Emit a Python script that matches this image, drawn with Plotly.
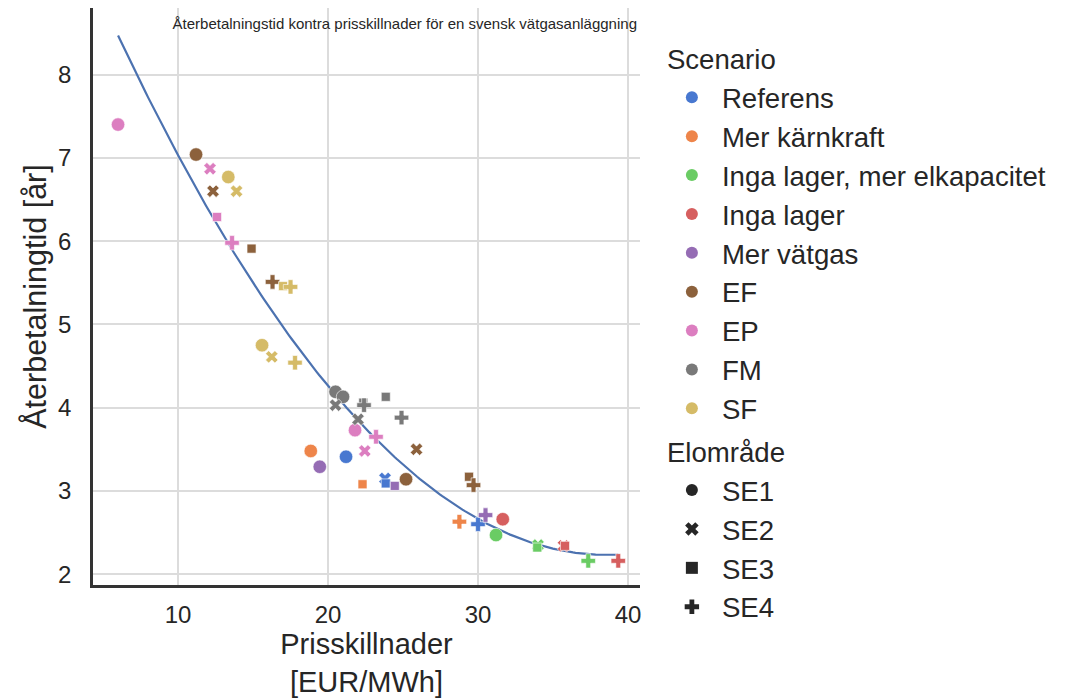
import numpy as np
import plotly.graph_objects as go

# ---- data ----
scenarios = ["Referens", "Mer kärnkraft", "Inga lager, mer elkapacitet", "Inga lager",
             "Mer vätgas", "EF", "EP", "FM", "SF"]
colors = ["#4878d0", "#ee854a", "#6acc64", "#d65f5f", "#956cb4",
          "#8c613c", "#dc7ec0", "#797979", "#d5bb67"]
regions = ["SE1", "SE2", "SE3", "SE4"]
symbols = ["circle", "x", "square", "cross"]
symbol_sizes = [13.5, 11, 9, 12]

pt_scenario = ["Referens", "Referens", "Referens", "Referens",
               "Mer kärnkraft", "Mer kärnkraft", "Mer kärnkraft",
               "Inga lager, mer elkapacitet", "Inga lager, mer elkapacitet",
               "Inga lager, mer elkapacitet", "Inga lager, mer elkapacitet",
               "Inga lager", "Inga lager", "Inga lager", "Inga lager",
               "Mer vätgas", "Mer vätgas", "Mer vätgas",
               "EF", "EF", "EF", "EF", "EF", "EF", "EF", "EF",
               "EP", "EP", "EP", "EP", "EP", "EP", "EP",
               "FM", "FM", "FM", "FM", "FM", "FM", "FM", "FM",
               "SF", "SF", "SF", "SF", "SF", "SF", "SF"]
pt_region = ["SE1", "SE2", "SE3", "SE4",
             "SE1", "SE3", "SE4",
             "SE1", "SE2", "SE3", "SE4",
             "SE1", "SE2", "SE3", "SE4",
             "SE1", "SE3", "SE4",
             "SE1", "SE2", "SE3", "SE4", "SE1", "SE2", "SE3", "SE4",
             "SE1", "SE2", "SE3", "SE4", "SE1", "SE2", "SE4",
             "SE1", "SE1", "SE2", "SE2", "SE3", "SE4", "SE4", "SE3",
             "SE1", "SE2", "SE3", "SE4", "SE1", "SE2", "SE4"]
pt_x = [21.2, 23.8, 23.85, 30.0,
        18.85, 22.3, 28.76,
        31.2, 34.0, 33.95, 37.35,
        31.65, 35.7, 35.8, 39.35,
        19.45, 24.45, 30.5,
        11.2, 12.33, 14.9, 16.3, 25.2, 25.9, 29.4, 29.7,
        6.0, 12.13, 12.6, 13.6, 21.8, 22.45, 23.2,
        20.5, 21.0, 20.5, 22.0, 23.85, 22.4, 24.9, 22.35,
        13.35, 13.9, 17.0, 17.5, 15.6, 16.25, 17.8]
pt_y = [3.41, 3.15, 3.09, 2.60,
        3.48, 3.08, 2.63,
        2.47, 2.35, 2.32, 2.16,
        2.66, 2.34, 2.34, 2.16,
        3.29, 3.06, 2.71,
        7.04, 6.60, 5.91, 5.51, 3.14, 3.50, 3.17, 3.07,
        7.40, 6.87, 6.29, 5.98, 3.73, 3.48, 3.65,
        4.19, 4.13, 4.03, 3.86, 4.13, 4.03, 3.88, 4.06,
        6.77, 6.60, 5.46, 5.45, 4.75, 4.61, 4.54]

title_text = "Återbetalningstid kontra prisskillnader för en svensk vätgasanläggning"
x_title = "Prisskillnader<br>[EUR/MWh]"
y_title = "Återbetalningtid [år]"
x_ticks = [10, 20, 30, 40]
y_ticks = [2, 3, 4, 5, 6, 7, 8]

FONT = "Liberation Sans, Arial, sans-serif"
TXT = "#262626"
fig = go.Figure()

# regression curve (2nd-degree polynomial fit of the points)
xa = np.array(pt_x)
ya = np.array(pt_y)
coef = np.polyfit(xa, ya, 2)
xf = np.linspace(xa.min(), xa.max(), 200)
fig.add_trace(go.Scatter(x=xf, y=np.polyval(coef, xf), mode="lines",
                         line=dict(color="#4c72b0", width=2.2),
                         showlegend=False, hoverinfo="skip"))

# data points
for sc, col in zip(scenarios, colors):
    for rg, sym, ms in zip(regions, symbols, symbol_sizes):
        idx = [i for i in range(len(pt_x)) if pt_scenario[i] == sc and pt_region[i] == rg]
        if not idx:
            continue
        fig.add_trace(go.Scatter(
            x=[pt_x[i] for i in idx], y=[pt_y[i] for i in idx], mode="markers",
            marker=dict(symbol=sym, color=col, size=ms, line=dict(color="white", width=0.6)),
            showlegend=False, name=f"{sc} {rg}"))

# legend entries
LEG = 27.6
for k, (sc, col) in enumerate(zip(scenarios, colors)):
    fig.add_trace(go.Scatter(
        x=[None], y=[None], mode="markers", name=sc,
        marker=dict(symbol="circle", color=col, size=13),
        legendgroup="scen",
        legendgrouptitle=dict(text="Scenario", font=dict(size=LEG, color=TXT)) if k == 0 else None))
for k, (rg, sym) in enumerate(zip(regions, symbols)):
    fig.add_trace(go.Scatter(
        x=[None], y=[None], mode="markers", name=rg,
        marker=dict(symbol=sym, color=TXT, size=12),
        legendgroup="elo",
        legendgrouptitle=dict(text="Elområde", font=dict(size=LEG, color=TXT)) if k == 0 else None))

# page body has an 8px offset, so the figure is sized/placed to compensate
fig.update_layout(
    width=1058, height=690,
    margin=dict(l=85, r=426, t=0, b=113),
    paper_bgcolor="white", plot_bgcolor="white",
    font=dict(family=FONT, size=24, color=TXT),
    title=dict(text=title_text, x=0.375, xanchor="center", xref="container",
               y=0.985, yref="container", yanchor="top",
               font=dict(size=15, color=TXT)),
    legend=dict(x=1.04, y=0.955, xanchor="left", yanchor="top",
                font=dict(size=LEG, color=TXT), tracegroupgap=4,
                itemsizing="constant", itemwidth=50, bgcolor="rgba(0,0,0,0)",
                maxheight=690),
    showlegend=True,
)
fig.update_xaxes(range=[4.33, 40.8], tickvals=x_ticks, showgrid=True,
                 gridcolor="#dcdcdc", gridwidth=1.5, zeroline=False,
                 showline=True, linecolor="#333333", linewidth=2.5, ticks="",
                 automargin=False,
                 ticklabelstandoff=6, title=dict(text=x_title, standoff=10,
                 font=dict(size=29)), tickfont=dict(size=24))
fig.update_yaxes(range=[1.87, 8.80], tickvals=y_ticks, showgrid=True,
                 gridcolor="#dcdcdc", gridwidth=1.5, zeroline=False,
                 showline=True, linecolor="#333333", linewidth=2.5, ticks="",
                 automargin=False,
                 ticklabelstandoff=14, title=dict(text=y_title, standoff=3,
                 font=dict(size=30.5)), tickfont=dict(size=24))

fig.write_html("out.html")
